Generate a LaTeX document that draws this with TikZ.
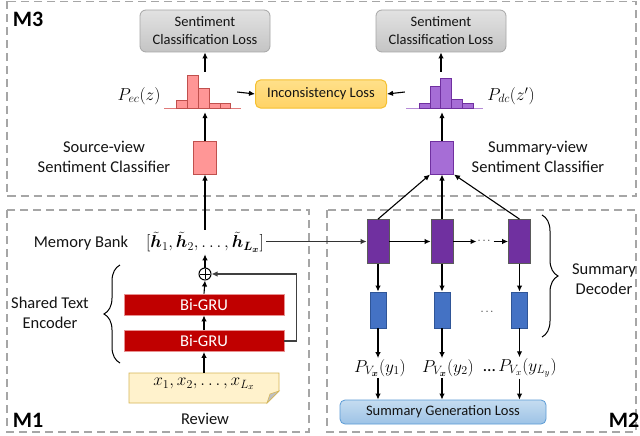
\documentclass[tikz,border=0pt]{standalone}
\usepackage{amsmath}
\usepackage{fontspec}
\setmainfont{Carlito}
\usetikzlibrary{arrows.meta,decorations.pathreplacing,backgrounds}
\definecolor{frameg}{HTML}{A6A6A6}
\definecolor{lossTop}{HTML}{E2E2E2}
\definecolor{lossBot}{HTML}{C4C4C4}
\definecolor{lossDraw}{HTML}{A6A6A6}
\definecolor{incTop}{HTML}{FFE08A}
\definecolor{incBot}{HTML}{FFD365}
\definecolor{incDraw}{HTML}{F5C030}
\definecolor{pinkF}{HTML}{FF9696}
\definecolor{pinkD}{HTML}{C0504D}
\definecolor{pinkBase}{HTML}{E07A7A}
\definecolor{lilF}{HTML}{A66DD6}
\definecolor{lilD}{HTML}{7030A0}
\definecolor{lilBase}{HTML}{B58AD6}
\definecolor{decF}{HTML}{7030A0}
\definecolor{decD}{HTML}{5A5A5A}
\definecolor{blueF}{HTML}{4472C4}
\definecolor{blueD}{HTML}{2F5597}
\definecolor{sglTop}{HTML}{C5DCF0}
\definecolor{sglBot}{HTML}{9DC3E6}
\definecolor{sglD}{HTML}{5B9BD5}
\definecolor{gruF}{HTML}{C00000}
\definecolor{gruD}{HTML}{E89090}
\definecolor{revF}{HTML}{FFF2CC}
\definecolor{revD}{HTML}{D6B656}
\definecolor{foldF}{HTML}{BFBFBF}
\definecolor{txtg}{HTML}{141414}
\tikzset{
  lbl/.style={font=\fontsize{16.5}{20}\selectfont, align=center, inner sep=1pt, text=txtg},
  mathlbl/.style={font=\fontsize{17.5}{20}\selectfont, align=center, inner sep=1pt, text=black},
  boxtxt/.style={font=\fontsize{14.5}{18}\selectfont, align=center, text=txtg},
  mlabel/.style={font=\fontsize{22}{24}\selectfont\bfseries, inner sep=0pt},
  frame/.style={draw=frameg, line width=1.4pt, dash pattern=on 8pt off 5pt},
  arr/.style={-{Latex[length=6pt,width=5.5pt]}, line width=1.1pt},
  lossbox/.style={boxtxt, rounded corners=6pt, draw=lossDraw, line width=0.8pt, top color=lossTop, bottom color=lossBot, minimum width=130pt, minimum height=42pt, inner sep=0pt},
  incbox/.style={boxtxt, rounded corners=5pt, draw=incDraw, line width=1pt, top color=incTop, bottom color=incBot, minimum width=131pt, minimum height=28pt, inner sep=0pt},
  sglbox/.style={boxtxt, rounded corners=5pt, draw=sglD, line width=0.8pt, top color=sglTop, bottom color=sglBot, minimum width=206pt, minimum height=24pt, inner sep=0pt},
  clsL/.style={draw=pinkD, fill=pinkF, line width=1pt, minimum width=23pt, minimum height=33pt, inner sep=0pt},
  clsR/.style={draw=lilD, fill=lilF, line width=1pt, minimum width=23pt, minimum height=33pt, inner sep=0pt},
  deccell/.style={draw=decD, fill=decF, line width=0.8pt, minimum width=22pt, minimum height=44pt, inner sep=0pt},
  outcell/.style={draw=blueD, fill=blueF, line width=0.8pt, minimum width=16pt, minimum height=36pt, inner sep=0pt},
  grubox/.style={draw=gruD, fill=gruF, line width=0.8pt, minimum width=160pt, minimum height=21pt, inner sep=0pt, text=white, font=\fontsize{16.5}{20}\selectfont},
  histanchor/.style={minimum width=66pt, minimum height=40pt, inner sep=0pt},
  bracestyle/.style={decorate, decoration={brace, amplitude=16pt}, line width=1pt},
  plus/.style={circle, draw, line width=1pt, minimum size=12pt, inner sep=0pt,
    path picture={\draw[line width=0.9pt] ([yshift=-1pt]path picture bounding box.north) -- ([yshift=1pt]path picture bounding box.south) ([xshift=1pt]path picture bounding box.west) -- ([xshift=-1pt]path picture bounding box.east);}},
}
\begin{document}
\begin{tikzpicture}[x=1pt,y=-1pt]
\useasboundingbox (0,0) rectangle (640,436);
\begin{scope}[on background layer]
  \fill[white] (0,0) rectangle (640,436);
\end{scope}

% frames
\draw[frame] (7,1.5) rectangle (636,196);
\draw[frame] (7,210) rectangle (309,432);
\draw[frame] (327,210) rectangle (636,432);
\node[mlabel] (m3) at (28,19) {M3};
\node[mlabel] (m1) at (28,420) {M1};
\node[mlabel] (m2) at (624,420) {M2};

% M3 top
\node[lossbox] (lossL) at (205,31) {Sentiment\\Classification Loss};
\node[lossbox] (lossR) at (441,31) {Sentiment\\Classification Loss};
\node[incbox] (inc) at (321,94) {Inconsistency Loss};

% histograms
\draw[pinkBase, line width=1pt] (164,108) -- (241,108);
\foreach \a/\b/\t in {176.7/187.7/100.7, 187.7/198.3/75, 198.3/209.3/88.3, 209.3/220/103.3, 220/230.7/103.3}
  \draw[draw=pinkD, fill=pinkF, line width=0.8pt] (\a,108) rectangle (\b,\t);
\draw[lilBase, line width=1pt] (406,108) -- (483,108);
\foreach \a/\b/\t in {419/430/103.3, 430/440.7/86, 440.7/451.7/78.3, 451.7/462.7/99.3, 462.7/473.3/103.3}
  \draw[draw=lilD, fill=lilF, line width=0.8pt] (\a,108) rectangle (\b,\t);
\node[histanchor] (hL) at (204,92) {};
\node[histanchor, minimum width=78pt] (hR) at (444,92) {};
\node[mathlbl] (pec) at (139,96) {$P_{ec}(z)$};
\node[mathlbl] (pdc) at (511,96) {$P_{dc}(z')$};

\draw[arr] (lossL.south |- hL.north) -- (lossL.south);
\draw[arr] (lossR.south |- hR.north) -- (lossR.south);
\draw[arr] (hL.east) -- (inc.west);
\draw[arr] (hR.west) -- (inc.east);

% classifiers
\node[clsL] (cL) at (205,157.5) {};
\node[clsR] (cR) at (442,157.5) {};
\node[lbl] (cLtxt) at (104,157) {Source-view\\Sentiment Classifier};
\node[lbl] (cRtxt) at (538,157) {Summary-view\\Sentiment Classifier};
\draw[arr] (cL.north) -- (cL.north |- hL.south);
\draw[arr] (cR.north) -- (cR.north |- hR.south);

% M1 encoder
\node[lbl] (memtxt) at (81,243) {Memory Bank};
\node[mathlbl, inner sep=2pt] (mem) at (205,242) {$[\tilde{\boldsymbol{h}}_1, \tilde{\boldsymbol{h}}_2, \dots, \tilde{\boldsymbol{h}}_{\boldsymbol{L_x}}]$};
\node[plus] (op) at (205,274) {};
\node[grubox] (gru2) at (204,304.5) {Bi-GRU};
\node[grubox] (gru1) at (204,341) {Bi-GRU};
\node[mathlbl, minimum width=150pt, minimum height=22pt, inner sep=0pt] (rev) at (204,384) {$x_1, x_2, \dots, x_{L_x}$};
\begin{scope}[on background layer]
  \draw[draw=revD, fill=revF, line width=0.9pt] (129,373) -- (279,373) -- (279,391) -- (267,403) -- (129,403) -- cycle;
  \draw[draw=revD, fill=foldF, line width=0.6pt] (279,391) -- (267,403) -- (270,394) -- cycle;
\end{scope}
\node[lbl] (revtxt) at (205,419) {Review};

\draw[arr] (cL.south |- mem.north) -- (cL.south);
\draw[arr] (op.north) -- (mem.south);
\draw[arr] (gru2.north) -- (op.south);
\draw[arr] (gru1.north) -- (gru2.south);
\draw[arr] (rev.north) -- (gru1.south);
\draw[arr, draw=black!75] (gru1.east) -- ++(12,0) |- (op.east);

\coordinate (bEtop) at (120,265);
\coordinate (bEbot) at (120,363);
\draw[bracestyle] (bEbot) -- (bEtop);
\node[lbl] (enc) at (50,313) {Shared Text\\Encoder};

% M2 decoder
\node[deccell] (d1) at (378,241.5) {};
\node[deccell] (d2) at (442,241.5) {};
\node[deccell] (d3) at (519.5,241.5) {};
\node[inner sep=1pt, font=\fontsize{11}{12}\selectfont] (dd) at (485,241.5) {$\cdots$};
\node[outcell] (b1) at (378,310) {};
\node[outcell] (b2) at (442,310) {};
\node[outcell] (b3) at (519.5,310) {};
\node[inner sep=1pt, font=\fontsize{11}{12}\selectfont] (bd) at (488,312) {$\cdots$};

\draw[arr, draw=black!80] (mem.east |- d1.west) -- (d1.west);
\draw[arr] (d1.east) -- (d2.west);
\draw[arr] (d2.east) -- (dd.west);
\draw[arr] (dd.east) -- (d3.west);
\foreach \i in {1,2,3} \draw[arr] (d\i.south) -- (b\i.north);

\draw[arr] (d1.north) -- (cR.south west);
\draw[arr] (d2.north) -- (cR.south);
\draw[arr] (d3.north) -- (cR.south east);

\node[mathlbl] (p1) at (380,368) {$P_{V_{\boldsymbol{x}}}(y_1)$};
\node[mathlbl] (p2) at (448,368) {$P_{V_{\boldsymbol{x}}}(y_2)$};
\node[mathlbl] (p3) at (520,368) {\dots\,$P_{V_x}(y_{L_y})$};
\node[sglbox] (sgl) at (443,412) {Summary Generation Loss};
\foreach \i in {1,2,3} {
  \draw[arr] (b\i.south) -- (b\i.south |- p\i.north);
  \draw[arr] (b\i.south |- p\i.south) -- (b\i.south |- sgl.north);
}

\coordinate (bDtop) at (542,215);
\coordinate (bDbot) at (542,337);
\draw[bracestyle] (bDtop) -- (bDbot);
\node[lbl] (dectxt) at (604,279) {Summary\\Decoder};
\end{tikzpicture}
\end{document}
